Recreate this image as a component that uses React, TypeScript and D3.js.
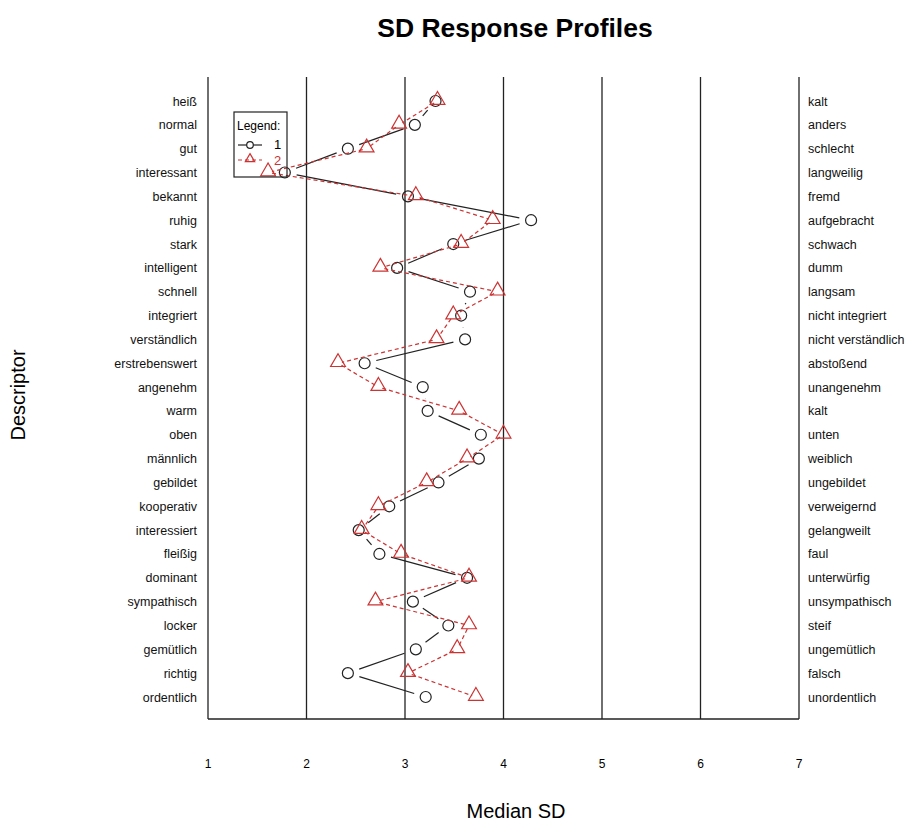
import React from "react";
import * as d3 from "d3";

const leftLabels = [
  "heiß", "normal", "gut", "interessant", "bekannt", "ruhig", "stark",
  "intelligent", "schnell", "integriert", "verständlich", "erstrebenswert",
  "angenehm", "warm", "oben", "männlich", "gebildet", "kooperativ",
  "interessiert", "fleißig", "dominant", "sympathisch", "locker",
  "gemütlich", "richtig", "ordentlich",
];
const rightLabels = [
  "kalt", "anders", "schlecht", "langweilig", "fremd", "aufgebracht",
  "schwach", "dumm", "langsam", "nicht integriert", "nicht verständlich",
  "abstoßend", "unangenehm", "kalt", "unten", "weiblich", "ungebildet",
  "verweigernd", "gelangweilt", "faul", "unterwürfig", "unsympathisch",
  "steif", "ungemütlich", "falsch", "unordentlich",
];
// group 1 (circles) and group 2 (triangles), median SD per descriptor
const group1 = [
  3.31, 3.1, 2.42, 1.78, 3.03, 4.28, 3.49, 2.92, 3.66, 3.57, 3.61, 2.59,
  3.18, 3.23, 3.77, 3.75, 3.34, 2.84, 2.53, 2.74, 3.63, 3.08, 3.44, 3.11,
  2.42, 3.21,
];
const group2 = [
  3.33, 2.94, 2.61, 1.61, 3.11, 3.89, 3.57, 2.75, 3.94, 3.49, 3.32, 2.32,
  2.73, 3.55, 4.0, 3.63, 3.22, 2.73, 2.56, 2.96, 3.65, 2.7, 3.65, 3.53,
  3.03, 3.72,
];
const xTicks = [1, 2, 3, 4, 5, 6, 7];

const W = 913;
const H = 823;
const FONT = "'Liberation Sans', Arial, sans-serif";
const RED = "#cc3333";

// segments between points, leaving a gap around each point (like R type="b")
function gapSegments(pts: [number, number][], gap: number) {
  const segs: [number, number, number, number][] = [];
  for (let i = 0; i < pts.length - 1; i++) {
    const [x0, y0] = pts[i];
    const [x1, y1] = pts[i + 1];
    const dx = x1 - x0;
    const dy = y1 - y0;
    const len = Math.hypot(dx, dy);
    if (len <= 2 * gap) continue;
    const ux = dx / len;
    const uy = dy / len;
    segs.push([x0 + ux * gap, y0 + uy * gap, x1 - ux * gap, y1 - uy * gap]);
  }
  return segs;
}

export default function App() {
  const top = 77;
  const bottom = 719;
  const x = d3.scaleLinear().domain([1, 7]).range([208, 799]);
  const y = d3.scalePoint<string>().domain(leftLabels).range([101, 697]);

  const pts1 = group1.map((v, i) => [x(v), y(leftLabels[i])!] as [number, number]);
  const pts2 = group2.map((v, i) => [x(v), y(leftLabels[i])!] as [number, number]);
  const tri = d3.symbol(d3.symbolTriangle, 95)()!;
  const triSmall = d3.symbol(d3.symbolTriangle, 38)()!;

  return (
    <svg
      width={W}
      height={H}
      style={{ position: "absolute", left: 0, top: 0, background: "#fff" }}
      fontFamily={FONT}
    >
      <text x={515} y={37} textAnchor="middle" fontSize={26.5} fontWeight="bold">
        SD Response Profiles
      </text>

      {/* vertical grid / frame */}
      {xTicks.map((t) => (
        <line key={t} x1={x(t)} x2={x(t)} y1={top} y2={bottom} stroke="#222" strokeWidth={1.3} />
      ))}
      <line x1={x(1)} x2={x(7)} y1={bottom} y2={bottom} stroke="#222" strokeWidth={1.3} />

      {xTicks.map((t) => (
        <text key={t} x={x(t)} y={768} textAnchor="middle" fontSize={12}>
          {t}
        </text>
      ))}

      {leftLabels.map((l) => (
        <text key={l} x={197} y={y(l)! + 4.5} textAnchor="end" fontSize={12.5} fill="#111">
          {l}
        </text>
      ))}
      {rightLabels.map((l, i) => (
        <text key={i} x={808} y={y(leftLabels[i])! + 4.5} fontSize={12.5} fill="#111">
          {l}
        </text>
      ))}

      {/* group 1 */}
      {gapSegments(pts1, 12).map((s, i) => (
        <line key={i} x1={s[0]} y1={s[1]} x2={s[2]} y2={s[3]} stroke="#222" strokeWidth={1.2} />
      ))}
      {pts1.map((p, i) => (
        <circle key={i} cx={p[0]} cy={p[1]} r={5.5} fill="none" stroke="#222" strokeWidth={1.2} />
      ))}

      {/* group 2 */}
      {gapSegments(pts2, 4).map((s, i) => (
        <line key={i} x1={s[0]} y1={s[1]} x2={s[2]} y2={s[3]} stroke={RED} strokeWidth={1.2} strokeDasharray="4,3" />
      ))}
      {pts2.map((p, i) => (
        <path key={i} d={tri} transform={`translate(${p[0]},${p[1] - 1})`} fill="none" stroke={RED} strokeWidth={1.2} />
      ))}

      {/* legend */}
      <g>
        <rect x={234} y={112} width={53} height={65} fill="none" stroke="#222" strokeWidth={1.2} />
        <text x={237} y={130} fontSize={12}>Legend:</text>
        <line x1={238} x2={262} y1={145} y2={145} stroke="#222" strokeWidth={1.2} />
        <circle cx={250} cy={145} r={3.3} fill="#fff" stroke="#222" strokeWidth={1.2} />
        <text x={274} y={149} fontSize={13}>1</text>
        <line x1={238} x2={262} y1={160} y2={160} stroke={RED} strokeWidth={1.2} strokeDasharray="4,3" />
        <path d={triSmall} transform="translate(250,159)" fill="none" stroke={RED} strokeWidth={1.2} />
        <text x={274} y={165} fontSize={13} fill={RED}>2</text>
      </g>

      <text x={516} y={818} textAnchor="middle" fontSize={20}>
        Median SD
      </text>
      <text
        transform={`translate(25,395) rotate(-90)`}
        textAnchor="middle"
        fontSize={20}
      >
        Descriptor
      </text>
    </svg>
  );
}
